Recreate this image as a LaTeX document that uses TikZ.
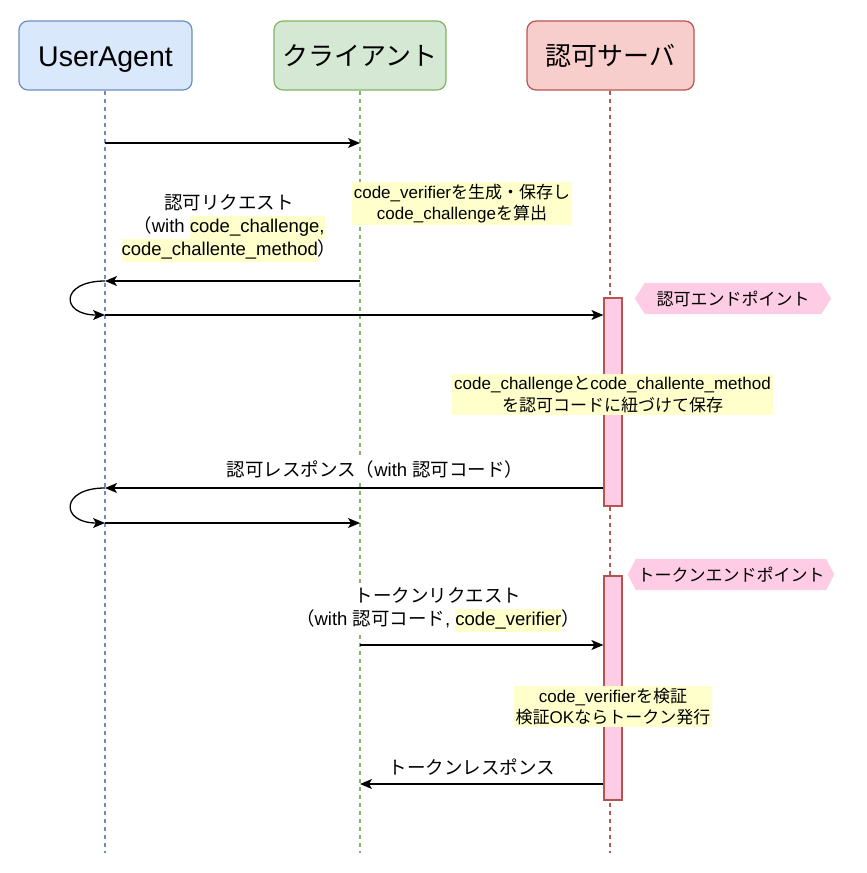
\documentclass[tikz,border=0pt]{standalone}
\usepackage{fontspec}
\setmainfont{Liberation Sans}
\newfontfamily\jpfont{Noto Sans CJK JP}
\usetikzlibrary{arrows.meta,backgrounds}
\definecolor{uaFill}{HTML}{DAE8FC}
\definecolor{uaLine}{HTML}{6C8EBF}
\definecolor{clFill}{HTML}{D5E8D4}
\definecolor{clLine}{HTML}{82B366}
\definecolor{svFill}{HTML}{F8CECC}
\definecolor{svLine}{HTML}{B85450}
\definecolor{actPink}{HTML}{FFCCE6}
\definecolor{noteY}{HTML}{FFFFCC}
\newcommand\J[1]{{\jpfont #1}}
\newcommand\hlt[1]{{\setlength{\fboxsep}{0pt}\colorbox{noteY}{\strut #1}}}
\begin{document}
\begin{tikzpicture}[x=1pt,y=-1pt,
  hdr/.style={rounded corners=9pt, line width=1.2pt, minimum width=173pt, minimum height=69pt, inner sep=0pt, font=\fontsize{26}{30}\selectfont},
  life/.style={line width=1.1pt, dash pattern=on 4pt off 4pt},
  msg/.style={line width=1.3pt, -{Stealth[length=12pt,width=10pt,inset=3pt]}},
  act/.style={draw=svLine, fill=actPink, line width=1.2pt, minimum width=18pt, inner sep=0pt},
  note/.style={fill=noteY, align=center, inner sep=2pt, font=\fontsize{17}{21.5}\selectfont},
  lbl/.style={fill=white, align=center, inner sep=1pt, font=\fontsize{18.5}{23}\selectfont},
  ep/.style={inner sep=0pt, minimum height=31pt, font=\fontsize{17}{20}\selectfont}
]
\useasboundingbox (0,0) rectangle (867,873);

% headers
\node[hdr, fill=uaFill, draw=uaLine, font=\fontsize{28.5}{32}\selectfont, text height=26pt, text depth=4pt] (ua) at (105.5,55.5) {UserAgent};
\node[hdr, fill=clFill, draw=clLine, minimum width=172pt] (cl) at (360,55.5) {\J{クライアント}};
\node[hdr, fill=svFill, draw=svLine, minimum width=167pt] (sv) at (610.5,55.5) {\J{認可サーバ}};

% lifeline ends
\coordinate (uaEnd) at (105,853);
\coordinate (clEnd) at (360,853);
\coordinate (svEnd) at (610,853);
\draw[life, uaLine] (ua.south -| uaEnd) -- (uaEnd);
\draw[life, clLine] (cl.south -| clEnd) -- (clEnd);
\draw[life, svLine] (sv.south -| svEnd) -- (svEnd);

% activations
\node[act, minimum height=208pt] (act1) at (613,402) {};
\node[act, minimum height=224pt] (act2) at (613,688) {};

% endpoint hexagons
\node[ep, minimum width=196pt] (ep1) at (733,298.5) {\J{認可エンドポイント}};
\node[ep, minimum width=206pt] (ep2) at (731,574.5) {\J{トークンエンドポイント}};
\begin{scope}[on background layer]
\fill[actPink] (ep1.west) -- ([xshift=10pt]ep1.north west) -- ([xshift=-10pt]ep1.north east) -- (ep1.east) -- ([xshift=-10pt]ep1.south east) -- ([xshift=10pt]ep1.south west) -- cycle;
\fill[actPink] (ep2.west) -- ([xshift=8pt]ep2.north west) -- ([xshift=-8pt]ep2.north east) -- (ep2.east) -- ([xshift=-8pt]ep2.south east) -- ([xshift=8pt]ep2.south west) -- cycle;
\end{scope}

% message points
\coordinate (p1a) at (105,143); \coordinate (p1b) at (360,143);
\coordinate (p2a) at (360,281); \coordinate (p2b) at (105,281);
\coordinate (p3a) at (105,315);
\coordinate (p4b) at (105,488);
\coordinate (p5a) at (105,523); \coordinate (p5b) at (360,523);
\coordinate (p6a) at (360,645);
\coordinate (p7b) at (360,784);

\draw[msg] (p1a) -- (p1b);
\draw[msg] (p2a) -- (p2b);
\draw[msg] (p2b) .. controls (60,281) and (60,315) .. (p3a);
\draw[msg] (p3a) -- (p3a -| act1.west);
\draw[msg] (act1.west |- p4b) -- (p4b);
\draw[msg] (p4b) .. controls (60,488) and (60,523) .. (p5a);
\draw[msg] (p5a) -- (p5b);
\draw[msg] (p6a) -- (p6a -| act2.west);
\draw[msg] (act2.west |- p7b) -- (p7b);

% notes
\node[note] (n1) at (462,203.5) {code\_verifier\J{を生成・保存し}\\code\_challenge\J{を算出}};
\node[note] (n2) at (612.5,394.5) {code\_challenge\J{と}code\_challente\_method\\\J{を認可コードに紐づけて保存}};
\node[note] (n3) at (613,706.5) {code\_verifier\J{を検証}\\\J{検証}OK\J{ならトークン発行}};

% labels
\node[lbl] (l1) at (229,228) {\J{認可リクエスト}\\\J{（}with \hlt{code\_challenge,}\\\hlt{code\_challente\_method}\J{）}};
\node[lbl] (l2) at (375,469) {\J{認可レスポンス（}with \J{認可コード）}};
\node[lbl] (l3) at (438,610) {\J{トークンリクエスト}\\\J{（}with \J{認可コード}, \hlt{code\_verifier}\J{）}};
\node[lbl] (l4) at (472,767) {\J{トークンレスポンス}};
\end{tikzpicture}
\end{document}
